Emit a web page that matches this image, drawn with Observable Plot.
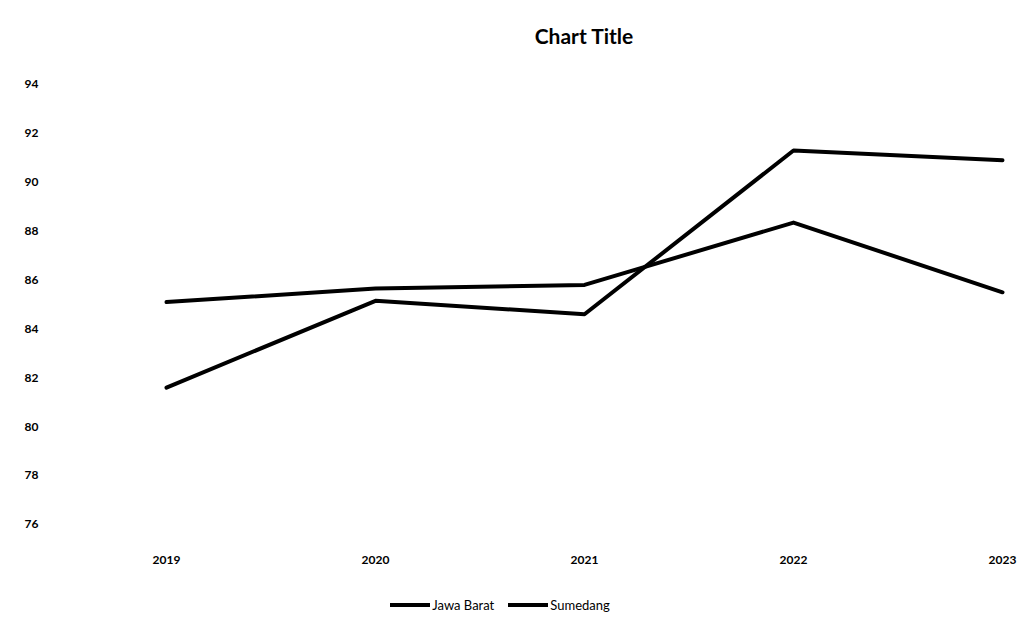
<!DOCTYPE html>
<html>
<head>
<meta charset="utf-8">
<script src="https://cdn.jsdelivr.net/npm/d3@7"></script>
<script src="https://cdn.jsdelivr.net/npm/@observablehq/plot@0.6"></script>
<style>
  body { margin: 0; background: #fff; font-family: Lato, "Open Sans", sans-serif; }
  #wrap { width: 1023px; height: 625px; position: relative; overflow: hidden; }
  #title { position: absolute; left: 165px; width: 838px; top: 23px; text-align: center; font-size: 21px; font-weight: bold; color: #000; }
  #chart { position: absolute; left: 0; top: 55px; }
  #legend { position: absolute; left: 0; width: 1000px; top: 597px; display: flex; justify-content: center; gap: 14px; font-size: 13px; color: #000; }
  .item { display: flex; align-items: center; gap: 2px; }
</style>
</head>
<body>
<div id="wrap">
  <div id="title">Chart Title</div>
  <div id="chart"></div>
  <div id="legend"></div>
</div>
<script>
const years = ["2019", "2020", "2021", "2022", "2023"];
const jawaBarat = [85.1, 85.65, 85.8, 88.35, 85.5];
const sumedang = [81.6, 85.15, 84.6, 91.3, 90.9];
const seriesNames = ["Jawa Barat", "Sumedang"];
const yTicks = [76, 78, 80, 82, 84, 86, 88, 90, 92, 94];

const data = [];
years.forEach((y, i) => {
  data.push({year: y, value: jawaBarat[i], series: seriesNames[0]});
  data.push({year: y, value: sumedang[i], series: seriesNames[1]});
});

const chart = Plot.plot({
  width: 1023,
  height: 530,
  marginLeft: 45,
  marginRight: 20,
  marginTop: 29,
  marginBottom: 61,
  style: {fontFamily: "Lato, 'Open Sans', sans-serif", fontSize: "12px", color: "#000", background: "#fff"},
  x: {type: "point", domain: years, padding: 0, insetLeft: 120, label: null},
  y: {domain: [76, 94], label: null},
  marks: [
    Plot.axisY({ticks: yTicks, tickSize: 0, tickPadding: 7, label: null, fontSize: 12, fontWeight: "bold"}),
    Plot.axisX({tickSize: 0, tickPadding: 31, label: null, fontSize: 12, fontWeight: "bold"}),
    Plot.line(data, {x: "year", y: "value", z: "series", stroke: "#000", strokeWidth: 4, strokeLinejoin: "round"})
  ]
});
document.getElementById("chart").appendChild(chart);

const legend = document.getElementById("legend");
seriesNames.forEach(name => {
  const item = document.createElement("div");
  item.className = "item";
  item.innerHTML = `<svg width="40" height="10"><line x1="0" y1="5" x2="40" y2="5" stroke="#000" stroke-width="4"/></svg><span>${name}</span>`;
  legend.appendChild(item);
});
</script>
</body>
</html>
